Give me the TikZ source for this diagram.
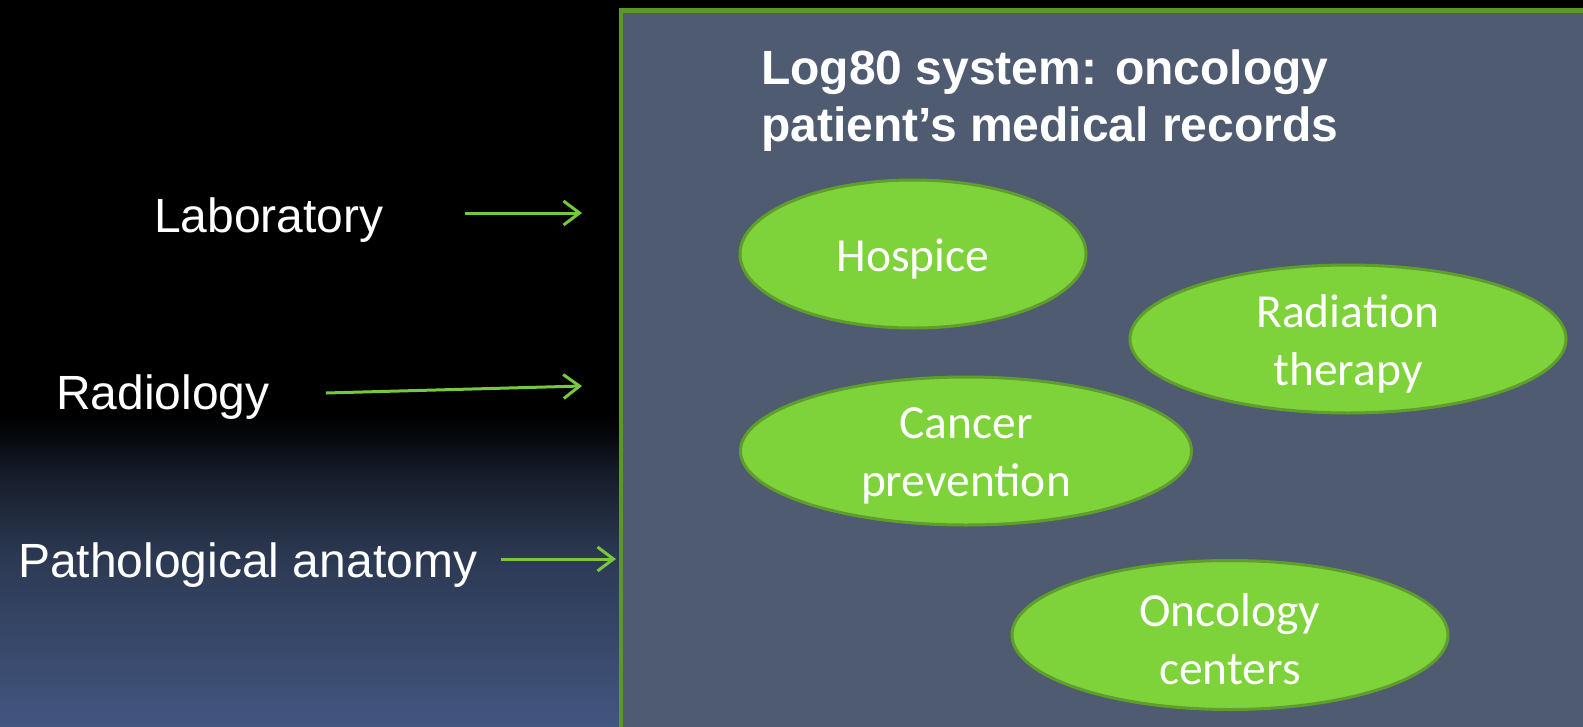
\documentclass[tikz,border=0pt]{standalone}
\usepackage{fontspec}
\setmainfont{Liberation Sans}
\newfontfamily\carlito{Carlito}
\usetikzlibrary{arrows.meta,shapes.geometric}
\definecolor{boxfill}{RGB}{79,91,112}
\definecolor{boxline}{RGB}{90,152,40}
\definecolor{ellfill}{RGB}{126,210,58}
\definecolor{ellline}{RGB}{95,158,44}
\definecolor{arrowgreen}{RGB}{119,200,58}
\pgfdeclareverticalshading{bgshade}{100bp}{rgb(0bp)=(0.263,0.337,0.502); rgb(25bp)=(0.263,0.337,0.502); rgb(51.5bp)=(0.173,0.227,0.329); rgb(64.5bp)=(0.094,0.122,0.173); rgb(72bp)=(0.02,0.03,0.05); rgb(75bp)=(0,0,0); rgb(100bp)=(0,0,0)}
\tikzset{
  lbl/.style={text=white, font=\fontsize{48}{57}\selectfont, inner sep=0pt, anchor=base west},
  ttl/.style={text=white, font=\fontsize{48}{57}\selectfont\bfseries, inner sep=0pt, anchor=base west},
  oval/.style={ellipse, draw=ellline, line width=3pt, fill=ellfill, inner sep=0pt},
  ovaltext/.style={text=white, inner sep=0pt, align=center, font=\carlito\fontsize{47.5}{58}\selectfont},
  feed/.style={draw=arrowgreen, line width=3pt, -{Straight Barb[length=16pt,width=24pt,line width=3pt]}}
}
\begin{document}
\begin{tikzpicture}[x=1pt,y=-1pt]
\useasboundingbox (0,0) rectangle (1583,726);
\fill[black] (0,0) rectangle (1583,726);
\shade[shading=bgshade] (0,415) rectangle (621,726);
\draw[fill=boxfill, draw=boxline, line width=4.5pt] (621,10.5) -- (1590,10.5) -- (1590,740) -- (621,740) -- cycle;
\node[ttl] (t1) at (761,84) {Log80 system: oncology};
\node[ttl] (t2) at (761,141) {patient’s medical records};
\node[lbl] (lab) at (154,232) {Laboratory};
\node[lbl] (rad) at (56,409) {Radiology};
\node[lbl] (pat) at (18,577) {Pathological anatomy};
\coordinate (labE) at (582,213);
\coordinate (radE) at (582,386);
\coordinate (patE) at (616,559);
\draw[feed] (lab.east |- labE) ++(81,0) coordinate (labS) -- (labE);
\draw[feed] ([xshift=56pt]rad.east |- 0,393) coordinate (radS) -- (radE);
\draw[feed] ([xshift=24pt]pat.east |- patE) coordinate (patS) -- (patE);
\node[oval, minimum width=346pt, minimum height=148pt] (hos) at (913,254) {};
\node[oval, minimum width=436pt, minimum height=148pt] (radt) at (1348,339) {};
\node[oval, minimum width=451pt, minimum height=148pt] (can) at (966,451) {};
\node[oval, minimum width=436pt, minimum height=149pt] (onc) at (1230,635) {};
\node[ovaltext] (hosT) at ([yshift=-4.5pt]hos.center) {Hospice};
\node[ovaltext] (radtT) at ([yshift=-4.5pt]radt.center) {Radiation\\therapy};
\node[ovaltext] (canT) at ([yshift=-4.5pt]can.center) {Cancer\\prevention};
\node[ovaltext] (oncT) at ([yshift=-4.5pt]onc.center) {Oncology\\centers};
\end{tikzpicture}
\end{document}
